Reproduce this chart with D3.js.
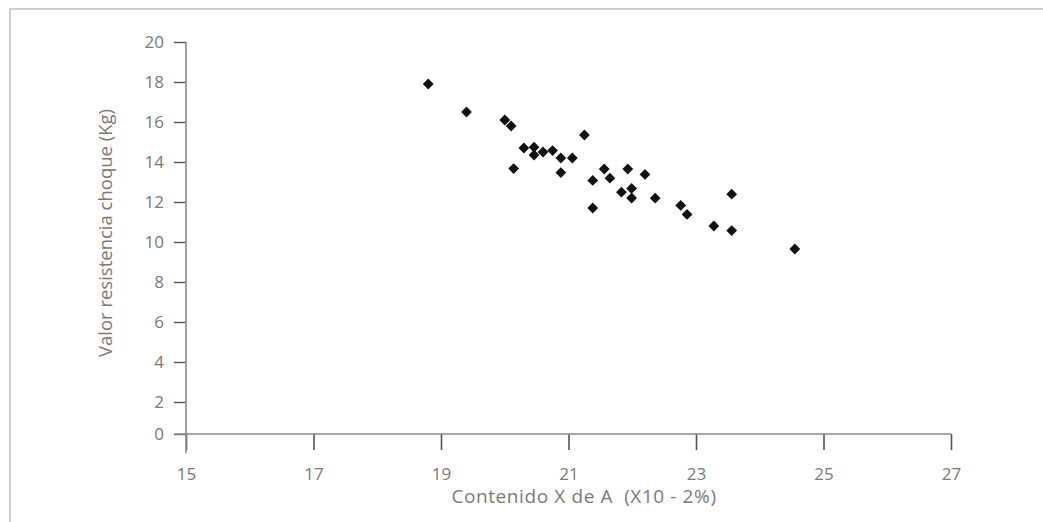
<!DOCTYPE html>
<html>
<head>
<meta charset="utf-8">
<script src="https://cdn.jsdelivr.net/npm/d3@7"></script>
<style>
  html, body { margin: 0; padding: 0; background: #fff; }
  svg { display: block; }
  text { font-family: "Open Sans", "Noto Sans", sans-serif; white-space: pre; }
</style>
</head>
<body>
<div id="chart"></div>
<script>
// ---- data ----
const contenidoX = [18.8, 19.4, 20.0, 20.1, 20.3, 20.46, 20.46, 20.6, 20.75, 20.88, 21.06, 21.25, 20.14, 20.88, 21.56,
                    21.93, 22.2, 21.38, 21.65, 21.83, 21.99, 21.99, 22.36, 21.38, 22.76, 22.86, 23.28, 23.56, 23.56, 24.55];
const resistencia = [17.9, 16.5, 16.1, 15.8, 14.7, 14.74, 14.35, 14.5, 14.57, 14.2, 14.2, 15.35, 13.67, 13.47, 13.65,
                     13.65, 13.38, 13.08, 13.19, 12.49, 12.68, 12.2, 12.19, 11.7, 11.83, 11.38, 10.8, 12.39, 10.57, 9.65];
const xTicks = [15, 17, 19, 21, 23, 25, 27];
const yTicks = [0, 2, 4, 6, 8, 10, 12, 14, 16, 18, 20];
const xTitle = "Contenido X de A  (X10 - 2%)";
const yTitle = "Valor resistencia choque (Kg)";

const W = 1043, H = 522;
const svg = d3.select("#chart").append("svg").attr("width", W).attr("height", H);

// frame (top and left edge)
svg.append("path").attr("d", `M10,${H} L10,9 L${W},9`)
  .attr("fill", "none").attr("stroke", "#cfcfcf").attr("stroke-width", 2);

const x = d3.scaleLinear().domain([15, 27]).range([186, 951]);
const y = d3.scaleLinear().domain([0, 2, 20]).range([434, 402, 42]);

const axisColor = "#8a8a8a";
const tickColor = "#555";
const labelColor = "#7a7a7a";

// y axis
const gy = svg.append("g").attr("transform", `translate(${x(15)},0)`)
  .call(d3.axisLeft(y).tickValues(yTicks).tickSize(12).tickPadding(10));
gy.select(".domain").remove();
gy.selectAll(".tick line").attr("stroke", tickColor).attr("stroke-width", 1.4);
gy.selectAll(".tick text").attr("fill", labelColor).style("font-size", "17px");

// x axis
const gx = svg.append("g").attr("transform", `translate(0,${y(0)})`)
  .call(d3.axisBottom(x).tickValues(xTicks).tickSize(16));
gx.select(".domain").remove();
gx.selectAll(".tick line").attr("stroke", tickColor).attr("stroke-width", 1.6);
gx.selectAll(".tick text").attr("fill", labelColor).attr("y", 34).style("font-size", "17px");

// axis lines
svg.append("line").attr("x1", x(15)).attr("x2", x(15)).attr("y1", y(20)).attr("y2", y(0) + 19)
  .attr("stroke", axisColor).attr("stroke-width", 1.6);
svg.append("line").attr("x1", x(15) - 11).attr("x2", x(27)).attr("y1", y(0)).attr("y2", y(0))
  .attr("stroke", axisColor).attr("stroke-width", 1.6);

// titles
svg.append("text").attr("x", 584).attr("y", 503).attr("text-anchor", "middle")
  .attr("fill", labelColor).style("font-size", "19px").style("letter-spacing", "0.6px").text(xTitle);
svg.append("text").attr("transform", `translate(112,233) rotate(-90)`).attr("text-anchor", "middle")
  .attr("fill", labelColor).style("font-size", "18.5px").text(yTitle);

// points (diamonds)
const sym = d3.symbol().type(d3.symbolSquare).size(58);
svg.append("g").selectAll("path").data(contenidoX.map((v, i) => [v, resistencia[i]]))
  .join("path")
  .attr("d", sym)
  .attr("transform", d => `translate(${x(d[0])},${y(d[1])}) rotate(45)`)
  .attr("fill", "#111");
</script>
</body>
</html>
